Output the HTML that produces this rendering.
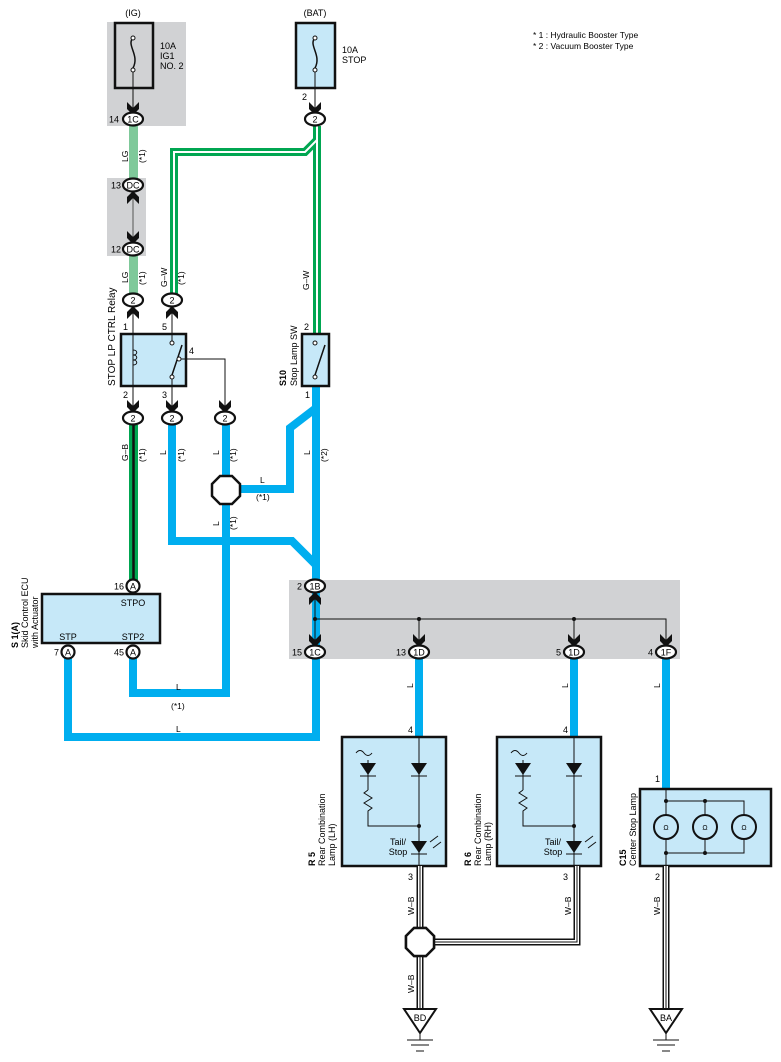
<!DOCTYPE html>
<html><head><meta charset="utf-8"><style>
html,body{margin:0;padding:0;background:#fff;}
svg{display:block;font-family:"Liberation Sans",sans-serif;}
</style></head><body>
<svg width="781" height="1062" viewBox="0 0 781 1062" xmlns="http://www.w3.org/2000/svg">
<defs>
<g id="chev"><path d="M-6,-11 L0,-5 L6,-11 L6,-4 L0,2 L-6,-4 Z" fill="#111"/></g>
<g id="chevu"><path d="M-6,11 L0,5 L6,11 L6,4 L0,-2 L-6,4 Z" fill="#111"/></g>
</defs>
<!-- gray boxes -->
<rect x="107" y="22" width="79" height="104" fill="#d1d2d4"/>
<rect x="107" y="178" width="39" height="78" fill="#d1d2d4"/>
<rect x="289" y="580" width="391" height="79" fill="#d1d2d4"/>

<!-- top labels -->
<text x="133" y="16" font-size="9" text-anchor="middle">(IG)</text>
<text x="315" y="16" font-size="9" text-anchor="middle">(BAT)</text>
<text x="533" y="38" font-size="8.5">* 1 : Hydraulic Booster Type</text>
<text x="533" y="49" font-size="8.5">* 2 : Vacuum Booster Type</text>

<!-- fuse boxes -->
<rect x="115" y="23" width="38" height="65" fill="none" stroke="#111" stroke-width="2.5"/>
<path d="M133,38 C126,45 140,55 133,68" fill="none" stroke="#111" stroke-width="1.5"/>
<circle cx="133" cy="38" r="2" fill="#fff" stroke="#111"/><circle cx="133" cy="70" r="2" fill="#fff" stroke="#111"/>
<text x="160" y="49" font-size="9">10A</text><text x="160" y="59" font-size="9">IG1</text><text x="160" y="69" font-size="9">NO. 2</text>
<rect x="296" y="23" width="39" height="65" fill="#c6e8f8" stroke="#111" stroke-width="2.5"/>
<path d="M315,38 C308,45 322,55 315,68" fill="none" stroke="#111" stroke-width="1.5"/>
<circle cx="315" cy="38" r="2" fill="#fff" stroke="#111"/><circle cx="315" cy="70" r="2" fill="#fff" stroke="#111"/>
<text x="342" y="53" font-size="9">10A</text><text x="342" y="63" font-size="9">STOP</text>
<line x1="133" y1="72" x2="133" y2="110" stroke="#111"/>
<line x1="315" y1="72" x2="315" y2="110" stroke="#111"/>
<text x="307" y="100" font-size="9" text-anchor="end">2</text>

<!-- LG wires -->
<rect x="129" y="126" width="9" height="54" fill="#7fc99a"/>
<rect x="129" y="256" width="9" height="38" fill="#7fc99a"/>
<line x1="133" y1="192" x2="133" y2="242" stroke="#555"/>

<!-- G-W green double -->
<g fill="none" stroke-linejoin="miter">
<path d="M174,294 L174,152 L305,152 L317,140 L317,126 M317,140 L317,334" stroke="#00a651" stroke-width="8"/>
<path d="M174,294 L174,152 L305,152 L317,140 L317,126 M317,140 L317,334" stroke="#fff" stroke-width="2"/>
</g>

<!-- blue wires -->
<g fill="none" stroke="#00aeef" stroke-width="8" stroke-linejoin="miter">
<path d="M172,425 L172,541 L292,541 L316,565"/>
<path d="M316,386 L316,737 L68,737 L68,656"/>
<path d="M316,408 L290,428 L290,489 L226,489"/>
<path d="M226,425 L226,693 L133,693 L133,656"/>
<path d="M419,656 L419,737"/>
<path d="M574,656 L574,737"/>
<path d="M666,656 L666,790"/>
</g>
<!-- G-B -->
<rect x="129" y="425" width="9" height="156" fill="#00a651"/>
<line x1="133.5" y1="425" x2="133.5" y2="581" stroke="#111" stroke-width="2.5"/>

<!-- splice octagons -->
<polygon points="220,476 232,476 240,484 240,496 232,504 220,504 212,496 212,484" fill="#fff" stroke="#111" stroke-width="2.5"/>
<polygon points="414,928 426,928 434,936 434,948 426,956 414,956 406,948 406,936" fill="#fff" stroke="#111" stroke-width="2.5"/>

<!-- relay -->
<rect x="121" y="334" width="65" height="52" fill="#c6e8f8" stroke="#111" stroke-width="2.5"/>
<line x1="133" y1="305" x2="133" y2="410" stroke="#111"/>
<path d="M133,350 c5,0 5,5 0,5 c5,0 5,5 0,5 c5,0 5,5 0,5" fill="none" stroke="#111"/>
<line x1="172" y1="305" x2="172" y2="342" stroke="#111"/>
<circle cx="172" cy="343" r="2" fill="#fff" stroke="#111"/>
<circle cx="172" cy="377" r="2" fill="#fff" stroke="#111"/>
<line x1="172" y1="375" x2="182" y2="345" stroke="#111" stroke-width="1.5"/>
<circle cx="179" cy="359" r="2" fill="#fff" stroke="#111"/>
<line x1="172" y1="379" x2="172" y2="410" stroke="#111"/>
<path d="M181,359 L225,359 L225,410" fill="none" stroke="#111"/>
<text x="128" y="330" font-size="9" text-anchor="end">1</text>
<text x="167" y="330" font-size="9" text-anchor="end">5</text>
<text x="189" y="354" font-size="9">4</text>
<text x="128" y="398" font-size="9" text-anchor="end">2</text>
<text x="167" y="398" font-size="9" text-anchor="end">3</text>
<text transform="translate(115,386) rotate(-90)" font-size="10">STOP LP CTRL Relay</text>

<!-- stop lamp sw -->
<rect x="302" y="334" width="27" height="52" fill="#c6e8f8" stroke="#111" stroke-width="2.5"/>
<circle cx="315" cy="343" r="2" fill="#fff" stroke="#111"/>
<circle cx="315" cy="377" r="2" fill="#fff" stroke="#111"/>
<line x1="315" y1="375" x2="325" y2="345" stroke="#111" stroke-width="1.5"/>
<text x="309" y="330" font-size="9" text-anchor="end">2</text>
<text x="310" y="398" font-size="9" text-anchor="end">1</text>
<text transform="translate(286,386) rotate(-90)" font-size="9" font-weight="bold">S10</text>
<text transform="translate(297,386) rotate(-90)" font-size="9">Stop Lamp SW</text>

<!-- connectors top area -->
<g font-size="9" text-anchor="middle">
<use href="#chev" x="133" y="113"/><use href="#chev" x="315" y="113"/>
<ellipse cx="133" cy="119" rx="10" ry="6.5" fill="#fff" stroke="#111" stroke-width="2.2"/><text x="133" y="122.5">1C</text>
<text x="119" y="122.5" text-anchor="end">14</text>
<ellipse cx="315" cy="119" rx="10" ry="6.5" fill="#fff" stroke="#111" stroke-width="2.2"/><text x="315" y="122.5">2</text>
<use href="#chevu" x="133" y="193"/><use href="#chev" x="133" y="242"/>
<ellipse cx="133" cy="185" rx="10" ry="6.5" fill="#fff" stroke="#111" stroke-width="2.2"/><text x="133" y="188.5">DC</text>
<text x="121" y="188.5" text-anchor="end">13</text>
<ellipse cx="133" cy="249" rx="10" ry="6.5" fill="#fff" stroke="#111" stroke-width="2.2"/><text x="133" y="252.5">DC</text>
<text x="121" y="252.5" text-anchor="end">12</text>
<use href="#chevu" x="133" y="308"/><use href="#chevu" x="172" y="308"/>
<ellipse cx="133" cy="300" rx="10" ry="6.5" fill="#fff" stroke="#111" stroke-width="2.2"/><text x="133" y="303.5">2</text>
<ellipse cx="172" cy="300" rx="10" ry="6.5" fill="#fff" stroke="#111" stroke-width="2.2"/><text x="172" y="303.5">2</text>
<use href="#chev" x="133" y="411"/><use href="#chev" x="172" y="411"/><use href="#chev" x="225" y="411"/>
<ellipse cx="133" cy="418" rx="10" ry="6.5" fill="#fff" stroke="#111" stroke-width="2.2"/><text x="133" y="421.5">2</text>
<ellipse cx="172" cy="418" rx="10" ry="6.5" fill="#fff" stroke="#111" stroke-width="2.2"/><text x="172" y="421.5">2</text>
<ellipse cx="225" cy="418" rx="10" ry="6.5" fill="#fff" stroke="#111" stroke-width="2.2"/><text x="225" y="421.5">2</text>
</g>

<!-- wire labels rotated -->
<g font-size="8.5">
<text transform="translate(128,162) rotate(-90)">LG</text>
<text transform="translate(145,163) rotate(-90)">(*1)</text>
<text transform="translate(128,283) rotate(-90)">LG</text>
<text transform="translate(145,285) rotate(-90)">(*1)</text>
<text transform="translate(167,287) rotate(-90)">G–W</text>
<text transform="translate(184,285) rotate(-90)">(*1)</text>
<text transform="translate(309,290) rotate(-90)">G–W</text>
<text transform="translate(128,461) rotate(-90)">G–B</text>
<text transform="translate(145,462) rotate(-90)">(*1)</text>
<text transform="translate(166,455) rotate(-90)">L</text>
<text transform="translate(184,462) rotate(-90)">(*1)</text>
<text transform="translate(219,455) rotate(-90)">L</text>
<text transform="translate(236,462) rotate(-90)">(*1)</text>
<text transform="translate(219,526) rotate(-90)">L</text>
<text transform="translate(236,530) rotate(-90)">(*1)</text>
<text transform="translate(310,455) rotate(-90)">L</text>
<text transform="translate(327,462) rotate(-90)">(*2)</text>
<text x="260" y="483">L</text><text x="256" y="500">(*1)</text>
<text x="176" y="690">L</text><text x="171" y="709">(*1)</text>
<text x="176" y="732">L</text>
<text transform="translate(413,688) rotate(-90)">L</text>
<text transform="translate(568,688) rotate(-90)">L</text>
<text transform="translate(660,688) rotate(-90)">L</text>
</g>

<!-- ECU -->
<rect x="42" y="594" width="118" height="49" fill="#c6e8f8" stroke="#111" stroke-width="2.5"/>
<g font-size="9" text-anchor="middle">
<text x="133" y="606">STPO</text><text x="68" y="640">STP</text><text x="133" y="640">STP2</text>
<ellipse cx="133" cy="586" rx="6.5" ry="6.5" fill="#fff" stroke="#111" stroke-width="2.2"/><text x="133" y="589.5">A</text>
<ellipse cx="68" cy="652" rx="6.5" ry="6.5" fill="#fff" stroke="#111" stroke-width="2.2"/><text x="68" y="655.5">A</text>
<ellipse cx="133" cy="652" rx="6.5" ry="6.5" fill="#fff" stroke="#111" stroke-width="2.2"/><text x="133" y="655.5">A</text>
<text x="124" y="589.5" text-anchor="end">16</text><text x="59" y="655.5" text-anchor="end">7</text><text x="124" y="655.5" text-anchor="end">45</text>
</g>
<text transform="translate(18,648) rotate(-90)" font-size="9" font-weight="bold">S 1(A)</text>
<text transform="translate(28,648) rotate(-90)" font-size="9">Skid Control ECU</text>
<text transform="translate(38,648) rotate(-90)" font-size="9">with Actuator</text>

<!-- junction -->
<path d="M315,596 L315,644 M315,619 L666,619 L666,644 M419,619 L419,644 M574,619 L574,644" fill="none" stroke="#111"/>
<circle cx="315" cy="619" r="2" fill="#111"/><circle cx="419" cy="619" r="2" fill="#111"/><circle cx="574" cy="619" r="2" fill="#111"/>
<g font-size="9" text-anchor="middle">
<use href="#chevu" x="315" y="594"/>
<use href="#chev" x="315" y="645"/><use href="#chev" x="419" y="645"/><use href="#chev" x="574" y="645"/><use href="#chev" x="666" y="645"/>
<ellipse cx="315" cy="586" rx="10" ry="6.5" fill="#fff" stroke="#111" stroke-width="2.2"/><text x="315" y="589.5">1B</text>
<ellipse cx="315" cy="652" rx="10" ry="6.5" fill="#fff" stroke="#111" stroke-width="2.2"/><text x="315" y="655.5">1C</text>
<ellipse cx="419" cy="652" rx="10" ry="6.5" fill="#fff" stroke="#111" stroke-width="2.2"/><text x="419" y="655.5">1D</text>
<ellipse cx="574" cy="652" rx="10" ry="6.5" fill="#fff" stroke="#111" stroke-width="2.2"/><text x="574" y="655.5">1D</text>
<ellipse cx="666" cy="652" rx="10" ry="6.5" fill="#fff" stroke="#111" stroke-width="2.2"/><text x="666" y="655.5">1F</text>
<text x="302" y="589.5" text-anchor="end">2</text><text x="302" y="655.5" text-anchor="end">15</text>
<text x="406" y="655.5" text-anchor="end">13</text><text x="561" y="655.5" text-anchor="end">5</text><text x="653" y="655.5" text-anchor="end">4</text>
<text x="413" y="733" text-anchor="end">4</text><text x="568" y="733" text-anchor="end">4</text><text x="660" y="782" text-anchor="end">1</text>
<text x="413" y="880" text-anchor="end">3</text><text x="568" y="880" text-anchor="end">3</text><text x="660" y="880" text-anchor="end">2</text>
</g>

<!-- rear lamps -->
<g id="lamp">
<rect x="342" y="737" width="104" height="129" fill="#c6e8f8" stroke="#111" stroke-width="2.5"/>
<path d="M356,753 q4,-5 8,0 t8,0" fill="none" stroke="#111"/>
<line x1="368" y1="760" x2="368" y2="790" stroke="#111"/>
<polygon points="360,763 376,763 368,775" fill="#111"/><line x1="360" y1="776" x2="376" y2="776" stroke="#111"/>
<path d="M368,790 l-4,3 l8,5 l-8,5 l8,5 l-4,3 L368,826 L419,826" fill="none" stroke="#111"/>
<line x1="419" y1="737" x2="419" y2="866" stroke="#111"/>
<polygon points="411,763 427,763 419,775" fill="#111"/><line x1="411" y1="776" x2="427" y2="776" stroke="#111"/>
<circle cx="419" cy="826" r="2" fill="#111"/>
<polygon points="411,841 427,841 419,853" fill="#111"/><line x1="411" y1="854" x2="427" y2="854" stroke="#111"/>
<path d="M430,842 l8,-6 M433,848 l8,-6" stroke="#111"/>
<text x="398" y="845" font-size="9" text-anchor="middle">Tail/</text><text x="398" y="855" font-size="9" text-anchor="middle">Stop</text>
</g>
<use href="#lamp" x="155"/>
<g font-size="9">
<text transform="translate(315,866) rotate(-90)" font-weight="bold">R 5</text>
<text transform="translate(325,866) rotate(-90)">Rear  Combination</text>
<text transform="translate(335,866) rotate(-90)">Lamp (LH)</text>
<text transform="translate(471,866) rotate(-90)" font-weight="bold">R 6</text>
<text transform="translate(481,866) rotate(-90)">Rear  Combination</text>
<text transform="translate(491,866) rotate(-90)">Lamp (RH)</text>
<text transform="translate(626,866) rotate(-90)" font-weight="bold">C15</text>
<text transform="translate(636,866) rotate(-90)">Center Stop Lamp</text>
</g>

<!-- C15 -->
<rect x="640" y="789" width="131" height="77" fill="#c6e8f8" stroke="#111" stroke-width="2.5"/>
<path d="M666,789 L666,866 M666,801 L744,801 L744,853 L666,853 M705,801 L705,853" fill="none" stroke="#111"/>
<circle cx="666" cy="801" r="2" fill="#111"/><circle cx="705" cy="801" r="2" fill="#111"/>
<circle cx="666" cy="853" r="2" fill="#111"/><circle cx="705" cy="853" r="2" fill="#111"/>
<g fill="#c6e8f8" stroke="#111" stroke-width="2">
<circle cx="666" cy="827" r="12"/><circle cx="705" cy="827" r="12"/><circle cx="744" cy="827" r="12"/></g>
<g font-size="7" text-anchor="middle"><text x="666" y="830">Ω</text><text x="705" y="830">Ω</text><text x="744" y="830">Ω</text></g>

<!-- W-B wires -->
<g fill="none" stroke-linejoin="miter">
<path d="M420,866 L420,1012 M420,942 L577,942 L577,866 M666,866 L666,1012" stroke="#111" stroke-width="7"/>
<path d="M420,866 L420,1012 M420,942 L577,942 L577,866 M666,866 L666,1012" stroke="#fff" stroke-width="4"/>
<path d="M420,866 L420,1012 M420,942 L577,942 L577,866 M666,866 L666,1012" stroke="#111" stroke-width="1"/>
</g>
<polygon points="414,928 426,928 434,936 434,948 426,956 414,956 406,948 406,936" fill="#fff" stroke="#111" stroke-width="2.5"/>
<g font-size="8.5">
<text transform="translate(414,915) rotate(-90)">W–B</text>
<text transform="translate(571,915) rotate(-90)">W–B</text>
<text transform="translate(660,915) rotate(-90)">W–B</text>
<text transform="translate(414,993) rotate(-90)">W–B</text>
</g>
<!-- grounds -->
<g fill="#fff" stroke="#111" stroke-width="2">
<polygon points="404,1009 436,1009 420,1033"/><polygon points="650,1009 682,1009 666,1033"/></g>
<g stroke="#111"><path d="M420,1033 L420,1040 M407,1040 L433,1040 M411,1045 L429,1045 M416,1051 L424,1051"/>
<path d="M666,1033 L666,1040 M653,1040 L679,1040 M657,1045 L675,1045 M662,1051 L670,1051"/></g>
<g font-size="9" text-anchor="middle"><text x="420" y="1021">BD</text><text x="666" y="1021">BA</text></g>
</svg>
</body></html>
